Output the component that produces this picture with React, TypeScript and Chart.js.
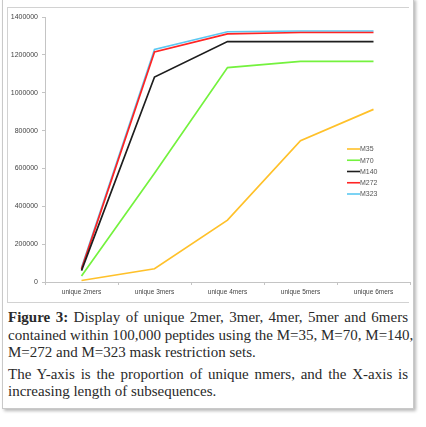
import React, { useEffect, useRef } from 'react';
import { Chart, registerables } from 'chart.js';
import type { Plugin } from 'chart.js';

Chart.register(...registerables);

// categories on the x axis
const categories = ['unique 2mers', 'unique 3mers', 'unique 4mers', 'unique 5mers', 'unique 6mers'];

// series values
const m35 = [8000, 70000, 327000, 746000, 912000];
const m70 = [32000, 575000, 1133000, 1166000, 1166000];
const m140 = [60000, 1083000, 1270000, 1270000, 1270000];
const m272 = [68000, 1215000, 1311000, 1318000, 1318000];
const m323 = [75000, 1229000, 1322000, 1326000, 1326000];

const seriesNames = ['M35', 'M70', 'M140', 'M272', 'M323'];
const seriesColors = ['#FFC12A', '#74F23E', '#1E1E1E', '#FF2424', '#5CC8F2'];

// y axis ticks
const yMax = 1400000;
const yStep = 200000;

const FONT = "'Liberation Sans', 'Open Sans', sans-serif";

// Small legend drawn inside the plot, like the Excel one
const insideLegend: Plugin<'line'> = {
  id: 'insideLegend',
  afterDraw: (chart) => {
    const { ctx, chartArea } = chart;
    const x0 = chartArea.right - 63;
    const y0 = chartArea.top + 132;
    const gap = 11.25;
    ctx.save();
    ctx.font = `7px ${FONT}`;
    ctx.textBaseline = 'middle';
    ctx.textAlign = 'left';
    chart.data.datasets.forEach((ds, i) => {
      const y = y0 + i * gap;
      ctx.strokeStyle = ds.borderColor as string;
      ctx.lineWidth = 1.6;
      ctx.beginPath();
      ctx.moveTo(x0, y);
      ctx.lineTo(x0 + 13, y);
      ctx.stroke();
      ctx.fillStyle = '#555';
      ctx.fillText(ds.label || '', x0 + 13, y + 0.5);
    });
    ctx.restore();
  },
};

const LineChart: React.FC = () => {
  const canvasRef = useRef<HTMLCanvasElement>(null);
  const chartRef = useRef<Chart | null>(null);

  useEffect(() => {
    if (!canvasRef.current) return;
    const values = [m35, m70, m140, m272, m323];

    chartRef.current = new Chart(canvasRef.current, {
      type: 'line',
      data: {
        labels: categories,
        datasets: values.map((v, i) => ({
          label: seriesNames[i],
          data: v,
          borderColor: seriesColors[i],
          backgroundColor: seriesColors[i],
          borderWidth: 1.7,
          pointRadius: 0,
          tension: 0,
        })),
      },
      options: {
        animation: false,
        responsive: false,
        maintainAspectRatio: false,
        layout: { padding: { left: 0, right: 2, top: 9, bottom: 0 } },
        plugins: {
          legend: { display: false },
          tooltip: { enabled: false },
        },
        scales: {
          x: {
            type: 'category',
            offset: true,
            afterFit: (scale) => { scale.height = 20; },
            border: { color: '#c4c4c4', width: 1 },
            grid: {
              offset: true,
              drawOnChartArea: false,
              drawTicks: true,
              tickLength: 3,
              color: '#c4c4c4',
            },
            ticks: {
              color: '#444',
              font: { size: 6.5, family: FONT },
              padding: 3,
              maxRotation: 0,
            },
          },
          y: {
            min: 0,
            max: yMax,
            afterFit: (scale) => { scale.width = 37; },
            border: { color: '#c4c4c4', width: 1 },
            grid: {
              drawOnChartArea: false,
              drawTicks: true,
              tickLength: 3,
              color: '#c4c4c4',
            },
            ticks: {
              stepSize: yStep,
              color: '#444',
              font: { size: 7, family: FONT },
              padding: 4,
              callback: (v) => String(v),
            },
          },
        },
      },
      plugins: [insideLegend],
    });

    return () => {
      chartRef.current?.destroy();
      chartRef.current = null;
    };
  }, []);

  return (
    <canvas
      ref={canvasRef}
      width={404}
      height={294}
      style={{ position: 'absolute', left: 8, top: 8, width: 404, height: 294 }}
    />
  );
};

const lineStyle: React.CSSProperties = {
  textAlign: 'justify',
  textAlignLast: 'justify',
  whiteSpace: 'nowrap',
  height: 17.5,
  lineHeight: '17.5px',
};
const lastLineStyle: React.CSSProperties = { ...lineStyle, textAlignLast: 'left' };

export default function App() {
  return (
    <div style={{ position: 'fixed', left: 0, top: 0, width: 426, height: 427, background: '#fff', overflow: 'hidden' }}>
      {/* outer figure box */}
      <div
        style={{
          position: 'absolute', left: 2, top: -2, width: 410, height: 409,
          border: '1px solid #c9c9c9', boxShadow: '2px 2px 3px rgba(0,0,0,0.28)',
        }}
      />
      {/* chart image frame */}
      <div
        style={{
          position: 'absolute', left: 7, top: 7, width: 401, height: 294,
          borderTop: '1px solid #d2d2d2', borderLeft: '1px solid #d2d2d2', borderBottom: '1px solid #d2d2d2',
        }}
      />
      <LineChart />
      <div
        style={{
          position: 'absolute', left: 8, top: 309, width: 400,
          fontFamily: "'Liberation Serif', 'DejaVu Serif', serif", fontSize: 15, color: '#2a2a2a',
        }}
      >
        <div style={lineStyle}><b>Figure 3:</b> Display of unique 2mer, 3mer, 4mer, 5mer and 6mers</div>
        <div style={lineStyle}>contained within 100,000 peptides using the M=35, M=70, M=140,</div>
        <div style={lastLineStyle}>M=272 and M=323 mask restriction sets.</div>
        <div style={{ height: 4 }} />
        <div style={lineStyle}>The Y-axis is the proportion of unique nmers, and the X-axis is</div>
        <div style={lastLineStyle}>increasing length of subsequences.</div>
      </div>
    </div>
  );
}
